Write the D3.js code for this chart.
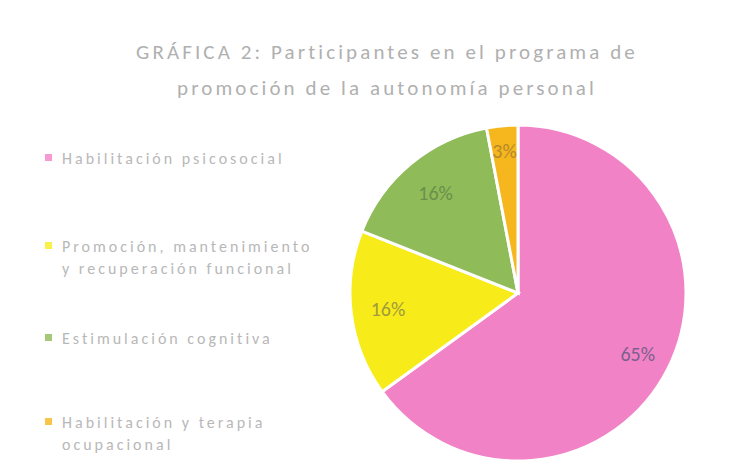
<!DOCTYPE html>
<html>
<head>
<meta charset="utf-8">
<script src="https://cdn.jsdelivr.net/npm/d3@7"></script>
<style>
  body { margin: 0; background: #fff; }
  text { font-family: Calibri, "Liberation Sans", "Open Sans", sans-serif; }
</style>
</head>
<body>
<div id="chart"></div>
<script>
// data
var categories = [
    "Habilitación psicosocial",
    "Promoción, mantenimiento y recuperación funcional",
    "Estimulación cognitiva",
    "Habilitación y terapia ocupacional"
];
var legendLines = [
    ["Habilitación psicosocial"],
    ["Promoción, mantenimiento", "y recuperación funcional"],
    ["Estimulación cognitiva"],
    ["Habilitación y terapia", "ocupacional"]
];
var values = [65, 16, 16, 3];
var pctLabels = ["65%", "16%", "16%", "3%"];
var titleLines = ["GRÁFICA 2: Participantes en el programa de", "promoción de la autonomía personal"];

var svgWidth = 753;
var svgHeight = 476;

var colors = ["#f282c6", "#f7ec1a", "#8fbb58", "#f5b61e"];
var labelColors = ["#7c5f8c", "#9f9a3c", "#6b8f4c", "#b58a2c"];

var svg = d3.select("#chart")
    .append("svg")
    .attr("width", svgWidth)
    .attr("height", svgHeight);

// title
svg.append("g").selectAll("text")
    .data(titleLines)
    .enter()
    .append("text")
    .attr("x", 387)
    .attr("y", (d, i) => 59 + i * 36)
    .attr("text-anchor", "middle")
    .attr("font-size", 21)
    .attr("letter-spacing", 3.1)
    .attr("fill", "#b0b0b0")
    .text(d => d);

// pie
var cx = 518, cy = 293, radius = 168;

var pie = d3.pie().sort(null).value(d => d);
var arc = d3.arc().innerRadius(0).outerRadius(radius);

var pieGroup = svg.append("g")
    .attr("transform", `translate(${cx}, ${cy})`);

var arcs = pie(values);

pieGroup.selectAll("path")
    .data(arcs)
    .enter()
    .append("path")
    .attr("d", arc)
    .attr("fill", (d, i) => colors[i])
    .attr("stroke", "#fff")
    .attr("stroke-width", 3);

// data labels, pushed out by slice
var labelRadius = [0.8, 0.78, 0.77, 0.85];
pieGroup.selectAll("text")
    .data(arcs)
    .enter()
    .append("text")
    .attr("transform", function(d, i) {
        var c = d3.arc().innerRadius(radius * labelRadius[i]).outerRadius(radius * labelRadius[i]).centroid(d);
        return `translate(${c[0]}, ${c[1]})`;
    })
    .attr("text-anchor", "middle")
    .attr("dy", "0.35em")
    .attr("font-size", 20)
    .attr("fill", (d, i) => labelColors[i])
    .text((d, i) => pctLabels[i]);

// legend
var legendY = [158, 246, 338, 422];
var legend = svg.append("g")
    .selectAll("g")
    .data(categories)
    .enter()
    .append("g")
    .attr("transform", (d, i) => `translate(45, ${legendY[i]})`);

legend.append("rect")
    .attr("x", 0)
    .attr("y", -4)
    .attr("width", 7)
    .attr("height", 7)
    .attr("fill", (d, i) => colors[i])
    .attr("opacity", 0.8);

legend.append("text")
    .attr("x", 17)
    .attr("y", 0)
    .attr("font-size", 16)
    .attr("letter-spacing", 3)
    .attr("fill", "#b8b8b8")
    .selectAll("tspan")
    .data((d, i) => legendLines[i])
    .enter()
    .append("tspan")
    .attr("x", 17)
    .attr("dy", (d, j) => j === 0 ? "0.35em" : "1.4em")
    .text(d => d);
</script>
</body>
</html>
